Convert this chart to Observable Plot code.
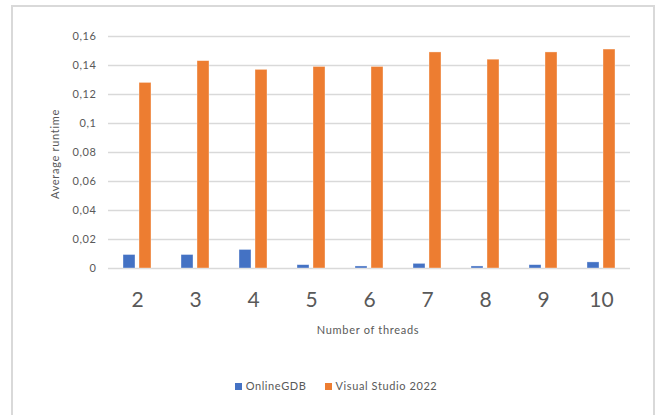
<!DOCTYPE html>
<html><head><meta charset="utf-8">
<script src="https://cdn.jsdelivr.net/npm/d3@7"></script>
<script src="https://cdn.jsdelivr.net/npm/@observablehq/plot@0.6"></script>
<style>
body{margin:0;background:#fff;font-family:Lato,"Open Sans",sans-serif}
#wrap{position:relative;width:659px;height:415px;overflow:hidden;background:#fff}
#frame{position:absolute;left:11px;top:5px;width:644px;height:420px;border:2px solid #d9d9d9;border-bottom:none;box-sizing:border-box}
#chart{position:absolute;left:0;top:0}
#legend{position:absolute;top:379px;left:0;width:672px;text-align:center;font-size:11px;letter-spacing:0.6px;color:#595959;white-space:nowrap}
#legend span.item{display:inline-block;margin:0 9px}
#legend span.sw{display:inline-block;width:7px;height:7px;margin-right:4px;vertical-align:0px}
</style></head>
<body>
<div id="wrap"><div id="frame"></div><div id="chart"></div><div id="legend"></div></div>
<script>
const threads = [2, 3, 4, 5, 6, 7, 8, 9, 10];
const onlineGDB = [0.0093, 0.0093, 0.0128, 0.0023, 0.0014, 0.0032, 0.0014, 0.0023, 0.0042];
const visualStudio = [0.128, 0.143, 0.137, 0.139, 0.139, 0.149, 0.144, 0.149, 0.151];
const seriesNames = ["OnlineGDB", "Visual Studio 2022"];
const seriesColors = ["#4472C4", "#ED7D31"];
const yTicks = [0, 0.02, 0.04, 0.06, 0.08, 0.1, 0.12, 0.14, 0.16];
const yTickLabels = ["0", "0,02", "0,04", "0,06", "0,08", "0,1", "0,12", "0,14", "0,16"];
const xTitle = "Number of threads";
const yTitle = "Average runtime";

const data = [];
threads.forEach((t, i) => {
  data.push({threads: t, series: seriesNames[0], value: onlineGDB[i]});
  data.push({threads: t, series: seriesNames[1], value: visualStudio[i]});
});
const fmt = d => yTickLabels[yTicks.findIndex(v => Math.abs(v - d) < 1e-9)];

const chart = Plot.plot({
  width: 659, height: 345,
  marginLeft: 106, marginRight: 28, marginTop: 36, marginBottom: 77,
  style: {fontFamily: "Lato, 'Open Sans', sans-serif", color: "#595959", background: "transparent"},
  fx: {domain: threads, padding: 0, label: null},
  x: {domain: seriesNames, axis: null, paddingInner: 0.24, paddingOuter: 0.885},
  y: {domain: [0, 0.16], label: null},
  color: {domain: seriesNames, range: seriesColors},
  marks: [
    Plot.gridY(yTicks, {stroke: "#d9d9d9", strokeOpacity: 1, strokeWidth: 1.6}),
    Plot.axisY(yTicks, {tickSize: 0, tickPadding: 12, fontSize: 11, tickFormat: fmt, label: null}),
    Plot.axisFx({anchor: "bottom", tickSize: 0, tickPadding: 24, fontSize: 21, label: null}),
    Plot.barY(data, {fx: "threads", x: "series", y: "value", fill: "series", stroke: "#fff", strokeOpacity: 0.5, strokeWidth: 0.7})
  ]
});
document.getElementById("chart").appendChild(chart);
const svg = d3.select(chart);
svg.selectAll("g[aria-label='y-axis tick label'] text").style("letter-spacing", "0.6px");
svg.append("text").attr("transform", "translate(59,154) rotate(-90)")
  .attr("text-anchor", "middle").attr("font-size", 11).style("letter-spacing", "0.7px").attr("fill", "#595959").text(yTitle);
svg.append("text").attr("x", 368).attr("y", 334)
  .attr("text-anchor", "middle").attr("font-size", 11).style("letter-spacing", "0.7px").attr("fill", "#595959").text(xTitle);

const legend = d3.select("#legend");
seriesNames.forEach((s, i) => {
  const item = legend.append("span").attr("class", "item");
  item.append("span").attr("class", "sw").style("background", seriesColors[i]);
  item.append("span").text(s);
});
</script>
</body></html>
